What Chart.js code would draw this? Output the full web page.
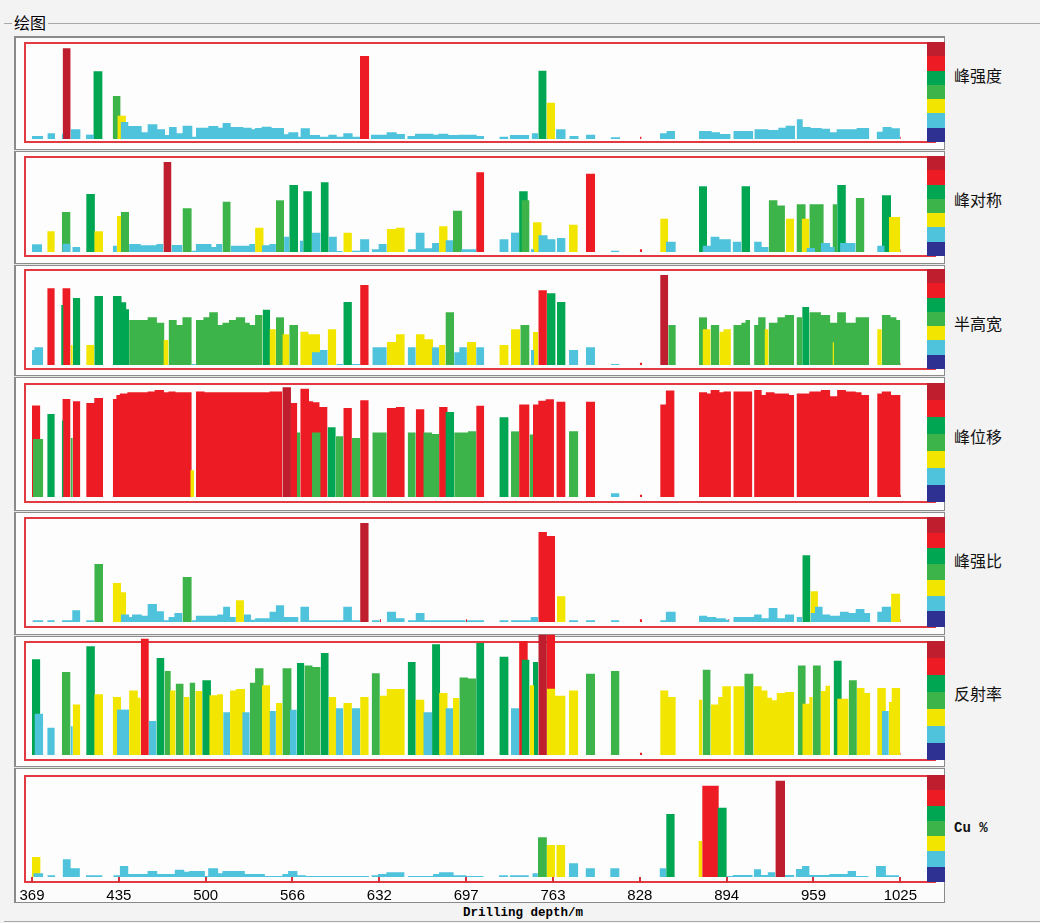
<!DOCTYPE html>
<html><head><meta charset="utf-8">
<script src="https://cdn.jsdelivr.net/npm/chart.js@4.4.0/dist/chart.umd.min.js"></script>
<style>
body{margin:0;width:1040px;height:923px;background:#f3f3f3;position:relative;overflow:hidden;font-family:"Noto Sans CJK SC",sans-serif}
.abs{position:absolute}
.red{position:absolute;left:24px;width:912px;box-sizing:border-box;border:2px solid #e23a40;background:#fdfdfd}
.sep{position:absolute;left:14px;width:931px;height:3px;box-sizing:border-box;border-top:1px solid #8c8c8c;border-bottom:1px solid #8c8c8c;background:#e6e6e6}
.strip{position:absolute;left:927px;width:18px;display:flex;flex-direction:column}
.strip div{flex:1}
.lab{position:absolute;left:954px;font-size:16px;line-height:20px;color:#111;white-space:nowrap}
canvas{position:absolute}
</style></head><body>
<div class="abs" style="left:4px;top:23px;width:1036px;height:1px;background:#a8a8a8"></div>
<div class="abs" style="left:12px;top:12px;height:20px;line-height:20px;font-size:16px;padding:0 2px;background:#f3f3f3;color:#000">绘图</div>
<div class="abs" style="left:14px;top:36px;width:931px;height:867px;box-sizing:border-box;border:2px solid #8a8a8a;border-right-width:1px;border-bottom-width:1px;background:#fcfcfc"></div>
<div class="abs" style="left:4px;top:921px;width:1036px;height:1px;background:#a8a8a8"></div>
<div class="abs" style="left:463px;top:905px;font-family:'Liberation Mono',monospace;font-weight:bold;font-size:12.5px;line-height:16px;color:#000">Drilling depth/m</div>
<div id="host"></div>
<script>
// ---- data: [fromDepth, toDepth, value, grade] ----
const peakStrength = [
[369,377.5,3.2,1],[380.6,386.4,6.0,1],[391.4,392.6,5.3,1],[392.1,398.2,95.4,6],[398.2,405.7,10.2,1],
[409.8,415.8,4.6,1],[415.3,422.3,71.2,4],[429.9,435.9,45.3,3],[433.4,439.9,24.6,2],[435.9,441.7,17.9,1],
[441.7,451.8,13.7,1],[451.8,456.3,7.0,1],[456.3,463.6,15.4,1],[463.6,469.4,10.2,1],[469.4,472.4,4.2,1],
[472.4,478.2,12.6,1],[478.2,482.7,6.0,1],[482.7,490.0,14.0,1],[490.0,492.8,2.5,1],[492.8,502.1,11.9,1],
[502.1,509.6,13.7,1],[509.6,512.9,11.9,1],[512.9,519.0,16.8,1],[519.0,528.5,12.6,1],[528.5,534.8,11.9,1],
[534.8,537.3,10.2,1],[537.3,542.4,11.6,1],[542.4,549.9,13.0,1],[549.9,559.2,11.6,1],[559.2,562.5,4.9,1],
[562.5,570.0,7.0,1],[570.0,571.8,2.5,1],[571.8,578.8,11.2,1],[578.8,586.4,4.2,1],[586.4,592.7,2.5,1],
[592.7,599.0,4.6,1],[599.0,604.0,2.5,1],[604.0,611.0,6.0,1],[611.0,616.6,2.5,1],[616.6,623.6,87.4,5],
[624.9,636.7,4.6,1],[636.7,644.3,7.0,1],[644.3,650.5,5.3,1],[652.3,658.1,3.2,1],[658.1,672.0,5.6,1],
[672.0,675.7,4.6,1],[675.7,683.3,5.6,1],[683.3,690.8,4.2,1],[690.8,704.7,4.6,1],[704.7,710.2,3.2,1],
[721.8,728.6,2.5,1],[729.8,744.4,4.2,1],[746.2,751.2,6.0,1],[751.2,757.5,71.9,4],[757.5,763.8,38.2,2],
[764.6,771.9,10.2,1],[774.6,781.7,3.2,1],[787.2,794.3,4.6,1],[805.8,812.9,1.8,1],[828.0,829.2,2.5,5],
[843.1,848.1,6.0,1],[848.1,854.4,8.4,1],[872.5,882.1,8.4,1],[882.1,888.4,7.0,1],[888.4,896.4,5.3,1],
[898.4,913.5,8.4,1],[914.3,924.9,10.2,1],[924.9,932.4,9.5,1],[932.4,937.9,11.9,1],[937.9,945.0,14.0,1],
[946.2,950.8,20.7,1],[950.8,956.8,12.6,1],[956.8,965.1,11.6,1],[965.1,971.4,10.9,1],[971.4,976.4,7.0,1],
[976.4,991.5,10.2,1],[991.5,1001.1,11.6,1],[1006.6,1011.1,7.7,1],[1011.1,1017.9,12.6,1],[1017.9,1024.2,11.2,1],
[1024.4,1025.4,2.5,5]
];
const peakSymmetry = [
[369,376.6,8.2,1],[380.5,386.2,22.0,2],[391.5,398.1,42.6,3],[391.9,398.1,8.9,1],[399.4,405.5,5.3,1],
[409.9,416.5,61.7,4],[416.0,422.6,22.0,2],[430.0,433.1,6.7,1],[433.1,436.2,38.3,2],[436.2,442.3,42.6,3],
[442.3,451.1,8.5,1],[451.1,462.9,7.1,1],[462.9,468.2,8.5,1],[468.2,474.3,95.7,6],[474.3,482.6,7.4,1],
[482.6,489.6,46.5,3],[489.6,492.7,1.4,1],[492.7,504.5,8.5,1],[504.5,508.0,5.3,1],[508.0,512.8,8.5,1],
[512.8,519.0,53.5,3],[519.0,533.0,6.7,1],[533.0,537.4,8.5,1],[537.4,543.9,25.9,2],[542.6,548.3,7.1,1],
[548.3,553.1,8.5,1],[553.1,559.3,55.0,3],[559.3,563.2,16.3,1],[563.2,569.8,71.3,4],[571.1,573.7,12.1,1],
[573.7,580.3,64.5,4],[580.3,586.9,20.6,1],[586.9,593.0,74.1,4],[593.0,599.1,16.3,1],[599.1,603.5,1.1,1],
[604.0,610.5,20.6,2],[610.5,616.7,1.4,1],[616.7,623.7,13.5,1],[625.4,630.7,2.8,1],[630.7,636.8,8.5,1],
[636.8,643.8,24.5,2],[643.8,650.4,25.9,2],[652.6,658.7,2.8,1],[658.7,665.3,20.6,1],[665.3,671.0,3.9,1],
[671.0,676.3,9.6,1],[676.3,682.8,27.3,2],[681.1,686.8,12.4,1],[686.8,693.8,44.0,3],[692.9,704.3,2.8,1],
[704.3,710.4,84.8,5],[721.8,728.8,13.5,1],[730.6,736.7,20.6,1],[736.7,743.3,64.5,4],[738.5,744.6,55.0,3],
[745.5,748.1,2.8,1],[747.2,753.8,31.6,2],[751.2,758.2,17.7,1],[758.2,764.3,13.5,1],[765.2,771.8,14.9,1],
[774.4,781.0,29.1,2],[787.1,794.1,83.3,5],[805.9,812.5,1.4,1],[827.8,829.6,2.8,5],[843.2,849.3,35.5,2],
[847.5,855.0,11.0,1],[872.5,878.6,69.9,4],[875.2,881.3,6.7,1],[881.3,887.9,16.3,1],[887.9,896.6,13.5,1],
[897.9,904.5,11.0,1],[904.5,911.1,69.9,4],[914.1,919.8,11.0,1],[919.8,925.1,5.3,1],[925.1,931.7,55.0,3],
[931.7,937.4,49.6,3],[938.2,944.4,35.5,2],[946.1,953.1,50.7,3],[950.0,955.8,35.5,2],[953.6,960.1,4.3,1],
[955.8,966.7,50.7,3],[964.5,971.5,9.6,1],[971.5,975.0,5.3,1],[973.3,976.8,50.7,3],[976.8,983.4,71.3,4],
[979.0,990.8,9.6,1],[990.8,997.4,57.4,3],[1007.0,1012.7,6.7,1],[1010.5,1017.5,60.3,4],[1015.8,1024.5,37.2,2],
[1024.5,1025.5,2.8,5]
];
const halfWidth = [
[369,370.9,16.0,1],[370.9,377.5,18.8,1],[380.5,386.2,81.6,5],[391.0,392.8,63.8,4],[391.9,398.1,81.6,5],
[398.1,399.8,21.3,2],[399.8,405.5,71.3,4],[409.9,416.0,21.3,2],[416.0,422.6,73.4,4],[430.0,436.6,73.4,4],
[436.6,440.1,66.7,4],[440.1,442.3,59.2,4],[442.3,456.3,47.9,3],[456.3,463.3,50.7,3],[463.3,469.0,45.0,3],
[468.2,472.1,26.6,2],[472.1,478.2,47.9,3],[478.2,482.6,42.6,3],[482.6,489.6,50.7,3],[489.6,492.7,1.1,1],
[492.7,498.4,47.9,3],[498.4,502.8,50.7,3],[502.8,509.3,56.0,3],[509.3,512.8,42.6,3],[512.8,517.7,45.0,3],
[517.7,522.9,47.9,3],[522.9,529.9,50.7,3],[529.9,533.4,45.0,3],[533.4,537.4,42.6,3],[537.4,543.1,53.2,3],
[543.1,548.8,58.9,4],[548.3,553.1,37.9,2],[553.1,559.3,50.7,3],[558.0,563.2,32.6,2],[563.2,569.8,42.6,3],
[571.5,577.7,35.5,2],[577.7,586.4,32.6,2],[580.3,586.4,13.5,1],[586.4,592.2,16.0,1],[592.2,598.7,37.9,2],
[598.7,604.0,1.1,1],[604.0,610.5,67.0,4],[610.5,616.7,1.1,1],[616.7,623.2,85.1,5],[625.9,636.8,18.8,1],
[636.8,643.8,24.5,2],[643.8,650.4,32.6,2],[652.6,658.7,18.8,1],[658.7,665.3,32.6,2],[665.3,671.9,27.3,2],
[671.0,676.3,18.8,1],[676.3,681.1,21.3,2],[681.1,687.7,56.0,3],[687.7,691.6,13.5,1],[691.6,697.3,18.8,1],
[697.3,704.3,24.5,2],[704.3,710.4,18.8,1],[721.8,728.8,21.3,2],[730.6,737.6,37.9,2],[737.6,744.6,42.6,3],
[745.5,748.1,16.0,1],[747.2,751.2,35.1,2],[751.2,757.7,79.4,5],[757.7,764.3,76.2,4],[765.2,771.8,67.0,4],
[774.4,781.4,16.0,1],[787.1,794.1,18.8,1],[805.9,812.5,1.1,1],[827.8,829.6,2.5,5],[843.2,849.3,95.7,6],
[849.3,855.0,42.6,3],[872.5,878.6,50.7,3],[875.2,881.3,37.9,2],[881.3,887.9,42.6,3],[887.9,891.0,35.5,2],
[891.0,896.6,37.9,2],[898.4,904.5,42.6,3],[904.5,907.6,45.0,3],[907.6,911.1,47.9,3],[914.1,917.2,42.6,3],
[917.2,922.9,50.7,3],[922.0,925.1,37.9,2],[925.1,931.7,45.0,3],[931.7,937.4,50.7,3],[937.4,944.4,53.2,3],
[946.1,950.4,50.7,3],[950.4,955.8,61.7,4],[955.8,964.5,56.0,3],[964.5,971.5,53.2,3],[971.5,976.8,45.0,3],
[973.3,974.5,24.1,2],[976.8,983.4,56.0,3],[983.4,990.8,45.0,3],[990.8,1000.9,50.7,3],[1007.0,1010.5,37.9,2],
[1010.5,1017.1,53.2,3],[1017.1,1021.5,50.7,3],[1021.5,1024.5,47.9,3],[1024.5,1025.5,2.5,5]
];
const peakShift = [
[369,375.3,81.8,5],[369.6,377.5,51.8,3],[380.5,386.2,74.1,4],[391.5,392.8,68.2,4],[391.9,398.1,87.5,5],
[398.1,399.8,52.7,3],[399.8,405.5,85.4,5],[409.9,416.0,83.9,5],[416.0,422.6,88.4,5],[430.0,432.7,87.5,5],
[432.7,435.3,91.1,5],[435.3,441.0,92.3,5],[441.0,456.3,93.5,5],[456.3,461.6,94.3,5],[461.6,468.6,95.5,5],
[468.6,472.1,93.5,5],[472.1,477.4,94.3,5],[477.4,489.6,93.5,5],[488.5,491.5,23.8,2],[492.7,499.3,94.3,5],
[499.3,548.3,93.5,5],[548.3,558.0,94.3,5],[558.0,564.5,97.9,6],[564.5,569.3,83.9,5],[569.0,571.5,57.7,3],
[571.5,578.1,96.7,5],[578.1,581.2,85.4,5],[581.2,586.0,84.5,5],[580.3,586.9,57.7,3],[586.0,592.1,80.4,5],
[592.1,598.3,62.2,4],[598.3,604.0,54.2,3],[604.0,610.5,79.5,5],[610.5,616.7,52.7,3],[616.7,623.2,86.3,5],
[625.9,636.8,57.7,3],[636.8,643.8,79.5,5],[643.8,650.4,80.4,5],[652.6,658.7,57.7,3],[658.7,665.3,78.3,5],
[664.4,671.0,57.7,3],[671.0,676.3,56.3,3],[676.3,682.8,80.4,5],[681.1,687.7,75.9,4],[687.7,698.1,57.7,3],
[698.1,704.3,58.6,3],[704.3,710.4,81.5,5],[721.8,728.8,71.1,4],[730.6,736.7,58.6,3],[736.7,744.6,82.7,5],
[744.6,747.2,55.7,3],[747.2,751.2,82.7,5],[751.2,756.8,86.0,5],[756.8,763.0,87.2,5],[764.8,771.8,85.1,5],
[774.4,781.4,58.6,3],[787.1,794.1,85.1,5],[805.9,812.5,3.3,1],[827.8,829.6,2.0,5],[843.2,847.5,82.7,5],
[847.5,854.1,95.2,5],[872.5,878.6,93.5,5],[878.6,881.3,92.3,5],[881.3,887.9,95.5,5],[887.9,891.0,93.5,5],
[891.0,896.6,94.3,5],[898.4,912.8,94.3,5],[914.1,919.8,95.5,5],[919.8,922.9,91.1,5],[922.9,929.5,93.5,5],
[929.5,940.4,92.3,5],[940.4,944.4,91.1,5],[946.1,955.8,92.3,5],[955.8,964.5,94.3,5],[964.5,971.5,95.5,5],
[971.5,976.8,89.9,5],[976.8,983.4,95.5,5],[983.4,990.8,94.3,5],[990.8,995.2,93.5,5],[995.2,1000.9,91.1,5],
[1007.0,1010.5,92.3,5],[1010.5,1017.5,94.3,5],[1017.5,1024.5,91.1,5],[1024.5,1025.5,2.0,5]
];
const peakRatio = [
[369,369.6,2.6,5],[369.6,377.5,1.6,1],[380.5,386.2,1.6,1],[391.5,399.4,1.6,1],[399.4,405.5,11.3,1],
[409.9,416.0,1.6,1],[416.0,422.6,56.3,3],[430.0,436.2,37.9,2],[436.2,440.1,28.8,2],[436.2,442.3,7.4,1],
[442.3,444.5,4.9,1],[444.5,451.9,7.4,1],[451.9,456.3,6.1,1],[456.3,463.3,17.5,1],[463.3,468.6,10.4,1],
[468.6,472.1,1.6,1],[472.1,476.5,4.9,1],[476.5,482.6,8.7,1],[482.6,489.6,43.7,3],[489.6,492.7,1.6,1],
[492.7,508.9,6.1,1],[508.9,513.3,7.4,1],[513.3,518.5,14.9,1],[518.5,522.9,4.9,1],[522.9,529.0,21.0,2],
[529.0,534.3,7.4,1],[534.3,537.4,2.3,1],[537.4,548.3,3.6,1],[548.3,553.1,10.0,1],[553.1,559.3,16.2,1],
[559.3,570.2,4.9,1],[571.5,578.1,14.9,1],[578.1,604.0,1.6,1],[604.0,610.5,14.9,1],[610.5,616.7,1.6,1],
[616.7,623.2,96.1,6],[625.4,631.6,1.6,1],[631.6,632.5,2.6,5],[636.8,643.8,10.0,1],[643.8,650.4,3.6,1],
[652.6,658.7,1.6,1],[658.7,665.3,8.7,1],[665.3,696.4,1.6,1],[696.4,697.4,2.6,5],[697.4,710.4,1.6,1],
[721.8,728.8,1.6,1],[730.6,745.5,1.6,1],[745.5,751.2,4.9,1],[751.2,757.7,87.4,5],[757.7,763.9,83.5,5],
[765.2,771.8,24.9,2],[774.4,781.4,1.6,1],[787.1,794.1,1.6,1],[805.9,812.5,1.6,1],[827.8,829.6,2.6,5],
[843.2,847.5,1.6,1],[847.5,855.0,10.0,1],[872.5,878.6,6.1,1],[878.6,885.5,4.9,1],[885.5,892.7,3.6,1],
[892.7,895.3,2.3,1],[894.5,895.5,2.6,5],[898.4,914.1,4.9,1],[914.1,919.8,7.4,1],[919.8,925.1,3.6,1],
[925.1,931.7,13.6,1],[931.7,937.4,3.6,1],[937.4,944.4,7.4,1],[946.1,950.4,4.9,1],[950.5,956.6,64.7,4],
[956.6,962.3,29.8,2],[956.6,960.1,8.7,1],[960.1,965.8,14.9,1],[965.8,971.5,7.4,1],[971.5,978.9,6.1,1],
[978.9,985.5,10.0,1],[985.5,990.8,8.7,1],[990.8,997.4,12.6,1],[997.4,1001.8,8.7,1],[1007.0,1010.5,10.0,1],
[1010.5,1017.5,14.9,1],[1017.5,1024.5,27.5,2],[1024.5,1025.5,2.6,5]
];
const reflectance = [
[369,375.3,85.4,4],[370.9,377.5,36.9,1],[380.5,386.2,24.4,1],[391.5,398.1,74.1,3],[398.1,399.8,25.6,1],
[399.8,405.5,45.2,2],[409.9,416.5,97.0,4],[416.0,422.6,54.2,2],[430.0,436.2,51.8,2],[433.1,442.3,40.5,1],
[442.3,448.9,57.7,2],[448.9,451.1,51.2,2],[451.1,457.2,103.9,5],[457.2,462.9,30.4,1],[462.9,469.0,86.6,4],
[469.0,473.8,75.0,3],[473.0,477.4,57.7,2],[477.4,483.5,63.7,3],[483.5,487.9,51.8,2],[487.9,492.3,64.6,3],
[492.3,497.5,57.1,2],[497.5,504.1,66.7,4],[502.8,508.9,53.3,2],[508.9,513.3,54.2,2],[513.3,518.5,38.1,1],
[518.5,522.9,57.7,2],[522.9,529.9,58.9,2],[527.7,533.4,38.1,1],[533.4,537.4,64.6,3],[537.4,543.9,77.4,3],
[542.6,548.8,62.2,2],[548.3,553.1,39.3,1],[553.1,558.0,46.4,2],[558.0,565.0,77.4,3],[563.7,568.9,40.5,1],
[568.9,574.6,82.1,4],[574.6,580.7,79.8,3],[580.7,586.9,78.6,3],[586.9,593.0,91.1,4],[593.0,598.7,51.8,2],
[598.3,604.0,41.7,1],[604.0,610.5,46.4,2],[610.5,616.7,41.7,1],[616.7,623.2,51.8,2],[625.4,631.6,72.9,3],
[631.6,636.8,53.0,2],[636.8,650.4,58.9,2],[652.6,658.7,83.0,4],[658.7,665.3,49.4,2],[664.4,671.0,38.1,1],
[671.0,677.1,98.8,4],[676.3,682.8,55.4,2],[681.1,686.8,41.7,1],[686.8,691.6,50.9,2],[691.6,698.1,69.3,3],
[698.1,704.3,68.2,3],[704.3,710.4,100.0,4],[721.8,728.8,87.8,4],[730.6,736.7,41.7,1],[736.7,743.3,101.8,5],
[738.5,744.6,85.1,4],[744.6,748.1,62.2,2],[747.2,751.2,83.0,4],[751.2,757.7,107.4,6],[757.7,763.9,107.4,5],
[757.7,763.9,59.2,2],[763.9,771.8,53.0,2],[774.4,781.4,57.7,2],[787.1,794.1,72.6,3],[805.9,812.5,75.0,3],
[827.8,829.6,2.1,5],[843.2,849.3,57.7,2],[849.3,855.0,51.8,2],[872.5,875.2,49.4,2],[875.2,881.3,76.2,3],
[881.3,887.0,45.2,2],[887.0,890.1,51.8,2],[890.1,896.6,61.3,2],[898.4,906.7,61.3,2],[906.7,913.7,72.6,3],
[913.7,919.8,61.3,2],[919.8,924.2,57.7,2],[924.2,927.7,51.2,2],[927.7,931.2,48.8,2],[931.2,937.4,55.4,2],
[937.4,944.4,56.3,2],[947.0,953.1,79.8,3],[950.5,955.8,45.8,2],[955.8,958.4,51.8,2],[958.4,964.5,79.8,3],
[964.5,968.0,57.1,2],[968.0,971.5,61.9,2],[974.1,980.3,84.2,4],[976.8,985.5,50.3,2],[985.5,991.7,66.7,3],
[991.7,997.4,59.8,2],[997.4,1001.8,55.4,2],[1007.0,1013.6,59.8,2],[1010.5,1015.8,39.3,1],[1015.8,1018.0,47.3,2],
[1018.0,1024.5,59.8,2],[1024.5,1025.5,2.1,5]
];
const copper = [
[369,375.5,20.0,2],[370.0,377.5,3.7,1],[380.6,386.4,1.7,1],[392.1,398.2,17.7,1],[398.2,405.2,8.7,1],
[409.8,422.3,1.7,1],[430.4,435.4,1.7,1],[435.4,441.7,11.0,1],[441.7,456.3,3.0,1],[456.3,463.6,6.0,1],
[463.6,476.9,3.0,1],[476.9,484.0,7.3,1],[484.0,487.7,5.3,1],[487.7,499.6,6.0,1],[499.6,502.1,1.0,1],
[502.1,509.6,8.7,1],[509.6,512.9,3.7,1],[512.9,529.8,6.0,1],[529.8,544.9,3.0,1],[544.9,558.2,1.0,1],
[558.2,562.5,3.0,1],[562.5,569.5,6.0,1],[569.5,575.8,1.7,1],[575.8,623.6,1.0,1],[625.4,630.4,1.7,1],
[630.4,636.7,3.0,1],[636.7,650.5,4.7,1],[653.0,672.0,1.0,1],[672.0,676.5,3.0,1],[676.5,687.5,4.7,1],
[687.5,697.1,1.7,1],[697.1,710.2,1.0,1],[721.8,728.6,1.7,1],[729.8,744.4,1.7,1],[747.0,751.2,3.7,1],
[751.2,758.0,39.7,3],[758.0,764.1,32.0,2],[765.1,771.9,32.0,2],[774.6,781.7,13.7,1],[787.2,794.3,8.7,1],
[805.8,812.9,8.7,1],[843.1,848.1,8.7,1],[848.1,854.6,63.0,4],[872.5,875.3,36.0,2],[875.3,887.9,91.3,5],
[886.9,893.9,69.3,4],[893.9,898.4,1.0,1],[898.4,913.5,2.0,1],[914.3,919.8,7.7,1],[919.8,924.9,2.0,1],
[924.9,930.6,4.7,1],[930.6,937.9,96.3,6],[937.9,945.0,2.0,1],[946.2,950.8,8.0,1],[950.8,956.3,11.0,1],
[956.3,971.4,2.0,1],[971.4,985.2,3.0,1],[985.2,991.5,6.0,1],[991.5,1001.1,1.0,1],[1006.6,1014.1,11.0,1],
[1014.1,1024.2,1.7,1]
];
const depthTicks = [369, 434.6, 500.2, 565.8, 631.4, 697, 762.6, 828.2, 893.8, 959.4, 1025];
const tickLabels = ['369','435','500','566','632','697','763','828','894','959','1025'];
const panelNames = ['峰强度','峰对称','半高宽','峰位移','峰强比','反射率','Cu %'];
const gradeColors = ['#2E3192','#4EC3DB','#F2E600','#3CB44A','#00A651','#ED1C24','#BE1E2D'];

// ---- layout (pixels) ----
const layout = [
  {bars:peakStrength, redTop:42, redBot:143, base:139, h:95, labelY:75},
  {bars:peakSymmetry, redTop:156, redBot:257, base:252, h:94, labelY:199},
  {bars:halfWidth, redTop:269, redBot:370, base:365, h:94, labelY:323},
  {bars:peakShift, redTop:383, redBot:503, base:497, h:112, labelY:436},
  {bars:peakRatio, redTop:517, redBot:628, base:622, h:103, labelY:560},
  {bars:reflectance, redTop:641, redBot:761, base:755, h:112, labelY:693},
  {bars:copper, redTop:775, redBot:883, base:877, h:100, labelY:828, axis:true}
];
const separators = [149, 263, 375, 510, 634, 766];
const host = document.getElementById('host');
separators.forEach(y => { const d = document.createElement('div'); d.className='sep'; d.style.top = y+'px'; host.appendChild(d); });

function buildDatasets(bars){
  const ds = [];
  for (let g = 1; g <= 6; g++) {
    const pts = [];
    let prevEnd = null;
    bars.filter(b => b[3] === g).sort((a,b)=>a[0]-b[0]).forEach(([a,b,v]) => {
      if (prevEnd !== null && Math.abs(a - prevEnd) < 0.2) {
        pts.splice(pts.length - 2, 2);
        pts.push({x:a,y:v},{x:b,y:v},{x:b,y:0},{x:b,y:null});
      } else {
        pts.push({x:a,y:0},{x:a,y:v},{x:b,y:v},{x:b,y:0},{x:b,y:null});
      }
      prevEnd = b;
    });
    if (pts.length) ds.push({data:pts, backgroundColor:gradeColors[g], borderColor:'rgba(0,0,0,0)', borderWidth:0,
      fill:'origin', pointRadius:0, pointHoverRadius:0, tension:0, spanGaps:false, clip:false});
  }
  return ds;
}

const EXTRA = 1.12;
layout.forEach((p, i) => {
  const r = document.createElement('div'); r.className='red';
  r.style.top = p.redTop+'px'; r.style.height = (p.redBot - p.redTop)+'px'; host.appendChild(r);
  const s = document.createElement('div'); s.className='strip';
  s.style.top = p.redTop+'px'; s.style.height = (p.redBot - p.redTop - 1)+'px';
  for (let g = 6; g >= 0; g--) { const c = document.createElement('div'); c.style.background = gradeColors[g]; s.appendChild(c); }
  host.appendChild(s);
  const l = document.createElement('div'); l.className='lab'; l.textContent = panelNames[i];
  l.style.top = (p.labelY - 10)+'px';
  if (p.axis) { l.style.fontFamily = "'Liberation Mono',monospace"; l.style.fontWeight='bold'; l.style.fontSize='14px'; }
  host.appendChild(l);

  const cv = document.createElement('canvas');
  const areaH = Math.round(p.h * EXTRA);
  const cH = areaH + (p.axis ? 32 : 0);
  cv.width = 909; cv.height = cH; cv.style.width='909px'; cv.style.height=cH+'px';
  cv.style.left = '12px'; cv.style.top = (p.base - areaH)+'px';
  host.appendChild(cv);
  const xScale = {type:'linear', min:369, max:1025, display:false};
  if (p.axis) {
    Object.assign(xScale, {display:true,
      afterBuildTicks: sc => { sc.ticks = depthTicks.map(v => ({value:v})); },
      ticks:{autoSkip:false, maxRotation:0, padding:4, color:'#000',
        font:{family:'Liberation Sans', size:15}, callback:(v, idx) => tickLabels[idx]},
      grid:{drawOnChartArea:false, drawTicks:true, tickLength:6, color:'#d8313a', lineWidth:2},
      border:{display:false}});
  }
  const chart = new Chart(cv, {
    type:'line',
    data:{datasets:buildDatasets(p.bars)},
    options:{responsive:false, animation:false, events:[], devicePixelRatio:1,
      layout:{padding:{left:20,right:20,top:0,bottom:0}},
      plugins:{legend:{display:false}, tooltip:{enabled:false}},
      scales:{x:xScale, y:{display:false, min:0, max:100*EXTRA}}}
  });
  const ca = chart.chartArea;
  const hgt = ca.bottom - ca.top;
  chart.options.scales.y.max = 100 * hgt / p.h;
  chart.update();
  cv.style.top = (p.base - chart.chartArea.bottom)+'px';
});
</script>
</body></html>
